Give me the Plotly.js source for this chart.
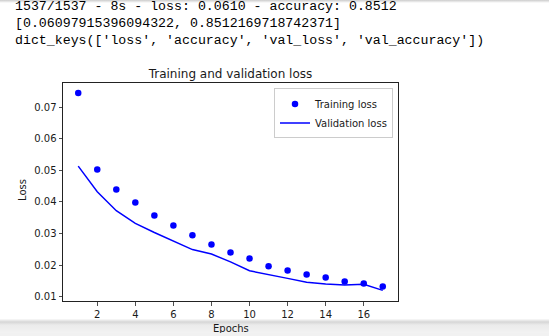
<!DOCTYPE html>
<html>
<head>
<meta charset="utf-8">
<script src="https://cdn.plot.ly/plotly-3.0.1.min.js"></script>
<style>
html,body{margin:0;padding:0;background:#fff;}
#wrap{position:relative;width:549px;height:336px;overflow:hidden;}
#chart{width:549px;height:336px;}
#botbar{position:absolute;left:0;top:319px;width:549px;height:14px;pointer-events:none;
  background:linear-gradient(rgba(0,0,0,0.02) 0px,rgba(0,0,0,0.16) 3px,rgba(0,0,0,0.08) 6px,rgba(0,0,0,0.05) 14px);}
#botsolid{position:absolute;left:0;top:333px;width:549px;height:3px;pointer-events:none;background:#f1f1f1;}
#topbar{position:absolute;left:0;top:0;width:549px;height:3px;pointer-events:none;
  background:linear-gradient(rgba(0,0,0,0.2),rgba(0,0,0,0));}
</style>
</head>
<body>
<div id="wrap">
<div id="chart"></div>
<div id="topbar"></div>
<div id="botbar"></div>
<div id="botsolid"></div>
</div>
<script>
const epochs = [1,2,3,4,5,6,7,8,9,10,11,12,13,14,15,16,17];
const trainingLoss = [0.0744,0.0502,0.0439,0.0398,0.0357,0.0325,0.0294,0.0265,0.0240,0.0221,0.0196,0.0183,0.0170,0.0161,0.0148,0.0142,0.0132];
const validationLoss = [0.0513,0.0432,0.0372,0.0332,0.0303,0.0276,0.0249,0.0235,0.0210,0.0182,0.0169,0.0158,0.0146,0.0140,0.0137,0.0139,0.0120];
const consoleLines = [
  "1537/1537 - 8s - loss: 0.0610 - accuracy: 0.8512",
  "[0.06097915396094322, 0.8512169718742371]",
  "dict_keys(['loss', 'accuracy', 'val_loss', 'val_accuracy'])"
];
const titleText = "Training and validation loss";
const xLabel = "Epochs";
const yLabel = "Loss";
const seriesNames = ["Training loss","Validation loss"];

// plot area in pixels
const L = 63, R = 398.5, T = 83.3, B = 301;
const W = 549, H = 336;
const px = x => (x - L) / (R - L);
const py = y => (B - y) / (B - T);

const textColor = "#1a1a1a";
const font = {family: "DejaVu Sans", size: 10, color: textColor};

const annotations = [];
const lineY = [6.5, 23.5, 40.5];
consoleLines.forEach((t, i) => {
  annotations.push({
    text: t, xref: "paper", yref: "paper", x: px(12.5), y: py(lineY[i]),
    xanchor: "left", yanchor: "middle", showarrow: false,
    font: {family: "Liberation Mono", size: 13.25, color: "#000", weight: 500}
  });
});
annotations.push({
  text: xLabel, xref: "paper", yref: "paper", x: 0.5, y: py(328),
  xanchor: "center", yanchor: "middle", showarrow: false, font: font
});
annotations.push({
  text: yLabel, xref: "paper", yref: "paper", x: px(23), y: py(190),
  xanchor: "center", yanchor: "middle", textangle: -90, showarrow: false, font: font
});

const data = [
  {x: epochs, y: trainingLoss, name: seriesNames[0], type: "scatter", mode: "markers",
   marker: {color: "#0000ff", size: 6.5}},
  {x: epochs, y: validationLoss, name: seriesNames[1], type: "scatter", mode: "lines",
   line: {color: "#0000ff", width: 1.5}}
];

const layout = {
  width: W, height: H,
  margin: {l: L, r: W - R, t: T, b: H - B, pad: 0},
  paper_bgcolor: "#fff", plot_bgcolor: "#fff",
  font: font,
  title: {text: titleText, font: {family: "DejaVu Sans", size: 12, color: textColor},
          xref: "paper", x: 0.5, xanchor: "center",
          yref: "container", y: 1 - 73.5 / H, yanchor: "middle"},
  xaxis: {range: [0.2, 17.8], tick0: 0, dtick: 2, ticks: "outside", ticklen: 3.5,
          tickwidth: 0.8, tickcolor: "#222", showgrid: false, zeroline: false,
          showline: true, linecolor: "#222", linewidth: 1, mirror: true,
          tickfont: font, fixedrange: true},
  yaxis: {range: [0.00864, 0.0776], tick0: 0, dtick: 0.01, tickformat: ".2f",
          ticks: "outside", ticklen: 3.5, tickwidth: 0.8, tickcolor: "#222",
          showgrid: false, zeroline: false, showline: true, linecolor: "#222",
          linewidth: 1, mirror: true, tickfont: font, fixedrange: true},
  showlegend: true,
  legend: {x: px(393.5), xanchor: "right", y: py(88.7), yanchor: "top",
           bgcolor: "#fff", bordercolor: "#cccccc", borderwidth: 1,
           font: font, tracegroupgap: 0, itemwidth: 30},
  annotations: annotations
};

Plotly.newPlot("chart", data, layout, {displayModeBar: false, staticPlot: true});
</script>
</body>
</html>
